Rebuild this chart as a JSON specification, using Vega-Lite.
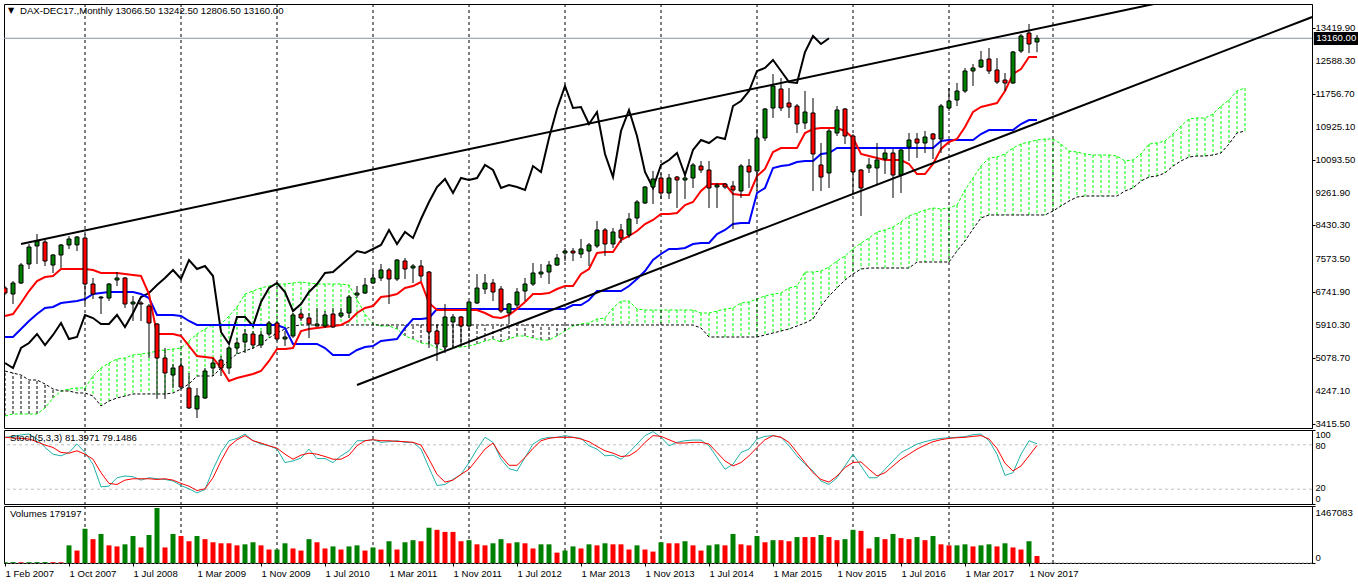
{
"$schema":"https://vega.github.io/schema/vega-lite/v6.json",
"background":"white",
"padding":{"left":2,"top":3,"right":0,"bottom":0},
"bounds":"flush",
"spacing":2,
"config":{"view":{"stroke":"black","strokeWidth":1},"scale":{"continuousPadding":0},
 "axis":{"labelFont":"Liberation Sans","labelFontSize":9.6,"labelColor":"black","domainColor":"black","tickColor":"black","tickSize":3,"labelPadding":2,"grid":false,"title":null,"labelOverlap":false}},
"datasets":{
"bars":[
{"i":0,"o":6851,"h":6901,"l":6674,"c":6724,"t":6144,"k":5613,"ch":4956,"v":20000,"vu":1,"sk":90.1,"sd":90.1},
{"i":1,"o":6699,"h":7028,"l":6447,"c":6977,"t":6194,"k":5613,"ch":4830,"v":22000,"vu":1,"sk":91.4,"sd":89.2},
{"i":2,"o":6977,"h":7483,"l":6952,"c":7432,"t":6472,"k":5816,"ch":5335,"v":18000,"vu":0,"sk":93.3,"sd":88.7},
{"i":3,"o":7457,"h":7963,"l":7331,"c":7887,"t":6775,"k":6018,"ch":5462,"v":20000,"vu":1,"sk":94.6,"sd":87.8},
{"i":4,"o":7913,"h":8215,"l":7457,"c":8039,"t":7028,"k":6194,"ch":5689,"v":22000,"vu":1,"sk":87.8,"sd":84.2},
{"i":5,"o":8013,"h":8114,"l":7407,"c":7533,"t":7129,"k":6346,"ch":5411,"v":24000,"vu":1,"sk":76.4,"sd":79.6},
{"i":6,"o":7432,"h":7710,"l":7230,"c":7685,"t":7154,"k":6371,"ch":5664,"v":20000,"vu":0,"sk":67.3,"sd":76.4},
{"i":7,"o":7685,"h":7963,"l":7356,"c":7938,"t":7331,"k":6472,"ch":5967,"v":18000,"vu":0,"sk":65.1,"sd":69.6},
{"i":8,"o":7938,"h":8165,"l":7837,"c":8089,"t":7331,"k":6497,"ch":5563,"v":453900,"vu":1,"sk":69.6,"sd":68.7},
{"i":9,"o":7940,"h":8165,"l":7786,"c":8140,"t":7331,"k":6523,"ch":5613,"v":320400,"vu":0,"sk":81,"sd":71.9},
{"i":10,"o":8114,"h":8215,"l":6447,"c":6952,"t":7331,"k":6573,"ch":6169,"v":881100,"vu":1,"sk":69.6,"sd":67.3},
{"i":11,"o":6952,"h":7104,"l":6573,"c":6699,"t":7306,"k":6699,"ch":6093,"v":614100,"vu":0,"sk":53.7,"sd":60.5},
{"i":12,"o":6598,"h":6649,"l":6194,"c":6623,"t":7230,"k":6724,"ch":5942,"v":747600,"vu":1,"sk":23.2,"sd":42.3},
{"i":13,"o":6598,"h":6977,"l":6523,"c":6952,"t":7230,"k":6750,"ch":5942,"v":453900,"vu":0,"sk":24.1,"sd":27.8},
{"i":14,"o":7053,"h":7255,"l":6901,"c":7104,"t":7230,"k":6750,"ch":6169,"v":427200,"vu":0,"sk":35.5,"sd":26.4},
{"i":15,"o":7104,"h":7129,"l":6346,"c":6447,"t":7205,"k":6750,"ch":5866,"v":480600,"vu":1,"sk":37.8,"sd":32.3},
{"i":16,"o":6447,"h":6649,"l":6018,"c":6497,"t":7180,"k":6750,"ch":6220,"v":694200,"vu":1,"sk":36.9,"sd":34.1},
{"i":17,"o":6472,"h":6523,"l":6018,"c":6447,"t":7154,"k":6699,"ch":6624,"v":400500,"vu":0,"sk":32.3,"sd":34.1},
{"i":18,"o":6396,"h":6447,"l":5083,"c":5967,"t":6699,"k":6598,"ch":6724,"v":720900,"vu":1,"sk":35.5,"sd":34.1},
{"i":19,"o":5942,"h":5967,"l":4047,"c":5083,"t":5689,"k":6169,"ch":6927,"v":1415100,"vu":1,"sk":34.1,"sd":33.2},
{"i":20,"o":5083,"h":5335,"l":4047,"c":4704,"t":5689,"k":6169,"ch":7104,"v":400500,"vu":0,"sk":33.2,"sd":34.1},
{"i":21,"o":4653,"h":4931,"l":4325,"c":4830,"t":5689,"k":6169,"ch":7306,"v":747600,"vu":1,"sk":31,"sd":32.3},
{"i":22,"o":4881,"h":5007,"l":4300,"c":4350,"t":5639,"k":6144,"ch":7079,"v":694200,"vu":0,"sk":25,"sd":27.8},
{"i":23,"o":4325,"h":4704,"l":3795,"c":3820,"t":5386,"k":6018,"ch":7559,"v":560700,"vu":0,"sk":20.5,"sd":24.1},
{"i":24,"o":3795,"h":4325,"l":3567,"c":4123,"t":5133,"k":5917,"ch":7331,"v":694200,"vu":1,"sk":15,"sd":18.2},
{"i":25,"o":4072,"h":4830,"l":4047,"c":4754,"t":5108,"k":5917,"ch":7407,"v":614100,"vu":0,"sk":19.6,"sd":20.5},
{"i":26,"o":4830,"h":5083,"l":4628,"c":4956,"t":5083,"k":5917,"ch":7154,"v":534000,"vu":0,"sk":46.9,"sd":35.5},
{"i":27,"o":5032,"h":5133,"l":4628,"c":4830,"t":4830,"k":5917,"ch":5740,"v":507300,"vu":0,"sk":69.6,"sd":58.2},
{"i":28,"o":4830,"h":5386,"l":4678,"c":5335,"t":4502,"k":5917,"ch":5437,"v":507300,"vu":0,"sk":85.5,"sd":77.8},
{"i":29,"o":5335,"h":5588,"l":5184,"c":5462,"t":4577,"k":5917,"ch":6119,"v":453900,"vu":0,"sk":88.7,"sd":86.9},
{"i":30,"o":5487,"h":5816,"l":5209,"c":5689,"t":4628,"k":5917,"ch":6119,"v":480600,"vu":1,"sk":94.6,"sd":92.4},
{"i":31,"o":5689,"h":5765,"l":5310,"c":5411,"t":4678,"k":5917,"ch":5891,"v":534000,"vu":1,"sk":85.5,"sd":85.5},
{"i":32,"o":5411,"h":5765,"l":5335,"c":5664,"t":4754,"k":5917,"ch":6497,"v":453900,"vu":0,"sk":81,"sd":82.4},
{"i":33,"o":5689,"h":6018,"l":5639,"c":5967,"t":5007,"k":5917,"ch":6851,"v":347100,"vu":0,"sk":78.7,"sd":78.7},
{"i":34,"o":5967,"h":6018,"l":5512,"c":5563,"t":5310,"k":5917,"ch":6977,"v":347100,"vu":1,"sk":74.2,"sd":75.5},
{"i":35,"o":5563,"h":5765,"l":5386,"c":5613,"t":5310,"k":5841,"ch":6750,"v":507300,"vu":1,"sk":56,"sd":67.3},
{"i":36,"o":5639,"h":6220,"l":5588,"c":6169,"t":5335,"k":5437,"ch":6270,"v":373800,"vu":0,"sk":58.2,"sd":60.5},
{"i":37,"o":6194,"h":6321,"l":6018,"c":6093,"t":5765,"k":5437,"ch":6447,"v":320400,"vu":0,"sk":62,"sd":66},
{"i":38,"o":6093,"h":6220,"l":5588,"c":5942,"t":5816,"k":5437,"ch":6750,"v":614100,"vu":1,"sk":74.2,"sd":68.7},
{"i":39,"o":5891,"h":6346,"l":5880,"c":5942,"t":5841,"k":5437,"ch":6952,"v":534000,"vu":0,"sk":61.4,"sd":67.3},
{"i":40,"o":5891,"h":6270,"l":5841,"c":6169,"t":5866,"k":5335,"ch":7230,"v":373800,"vu":0,"sk":61.4,"sd":64.2},
{"i":41,"o":6194,"h":6346,"l":5841,"c":5866,"t":5891,"k":5159,"ch":7255,"v":427200,"vu":1,"sk":56,"sd":60.5},
{"i":42,"o":6144,"h":6346,"l":6093,"c":6220,"t":5917,"k":5159,"ch":7432,"v":347100,"vu":0,"sk":65.1,"sd":60.5},
{"i":43,"o":6220,"h":6674,"l":6093,"c":6624,"t":6018,"k":5159,"ch":7609,"v":427200,"vu":1,"sk":71.9,"sd":66},
{"i":44,"o":6674,"h":6901,"l":6598,"c":6724,"t":6220,"k":5285,"ch":7786,"v":453900,"vu":1,"sk":85.5,"sd":78.7},
{"i":45,"o":6724,"h":7104,"l":6699,"c":6927,"t":6346,"k":5361,"ch":7736,"v":320400,"vu":0,"sk":85.5,"sd":85.5},
{"i":46,"o":6977,"h":7281,"l":6952,"c":7104,"t":6396,"k":5386,"ch":7837,"v":400500,"vu":1,"sk":86.9,"sd":86.9},
{"i":47,"o":7104,"h":7457,"l":7028,"c":7306,"t":6624,"k":5512,"ch":7938,"v":347100,"vu":0,"sk":83.3,"sd":85.5},
{"i":48,"o":7306,"h":7356,"l":6447,"c":7079,"t":6649,"k":5538,"ch":8317,"v":560700,"vu":1,"sk":84.2,"sd":85.5},
{"i":49,"o":7079,"h":7580,"l":7028,"c":7559,"t":6699,"k":5563,"ch":7963,"v":347100,"vu":0,"sk":85.5,"sd":84.6},
{"i":50,"o":7533,"h":7609,"l":7079,"c":7331,"t":6851,"k":5841,"ch":8266,"v":534000,"vu":1,"sk":83.3,"sd":84.2},
{"i":51,"o":7356,"h":7457,"l":6977,"c":7407,"t":6901,"k":6068,"ch":8114,"v":587400,"vu":1,"sk":83.3,"sd":83.3},
{"i":52,"o":7407,"h":7559,"l":7028,"c":7154,"t":7003,"k":6068,"ch":8594,"v":560700,"vu":0,"sk":74.2,"sd":79.6},
{"i":53,"o":7255,"h":7281,"l":5335,"c":5740,"t":6472,"k":6093,"ch":9024,"v":907800,"vu":1,"sk":49.2,"sd":60.5},
{"i":54,"o":5765,"h":5942,"l":5007,"c":5437,"t":6295,"k":6321,"ch":9403,"v":854400,"vu":0,"sk":25,"sd":40},
{"i":55,"o":5361,"h":6447,"l":5209,"c":6119,"t":6295,"k":6321,"ch":9605,"v":801000,"vu":0,"sk":26.4,"sd":29.6},
{"i":56,"o":5992,"h":6194,"l":5335,"c":6119,"t":6295,"k":6321,"ch":9251,"v":801000,"vu":0,"sk":33.2,"sd":32.3},
{"i":57,"o":6119,"h":6144,"l":5437,"c":5891,"t":6295,"k":6321,"ch":9630,"v":560700,"vu":0,"sk":40,"sd":40},
{"i":58,"o":5891,"h":6523,"l":5841,"c":6497,"t":6295,"k":6321,"ch":9580,"v":587400,"vu":1,"sk":56,"sd":46.9},
{"i":59,"o":6472,"h":7205,"l":6447,"c":6851,"t":6295,"k":6321,"ch":9630,"v":480600,"vu":0,"sk":74.2,"sd":60.5},
{"i":60,"o":6826,"h":7205,"l":6699,"c":6977,"t":6220,"k":6321,"ch":9959,"v":453900,"vu":0,"sk":90.1,"sd":74.2},
{"i":61,"o":6977,"h":7079,"l":6523,"c":6750,"t":6119,"k":6321,"ch":9832,"v":507300,"vu":1,"sk":83.3,"sd":82.4},
{"i":62,"o":6826,"h":6901,"l":6220,"c":6270,"t":6093,"k":6321,"ch":9378,"v":614100,"vu":1,"sk":60.5,"sd":65.1},
{"i":63,"o":6220,"h":6472,"l":5942,"c":6447,"t":6169,"k":6321,"ch":9453,"v":507300,"vu":0,"sk":47.8,"sd":52.3},
{"i":64,"o":6422,"h":6851,"l":6346,"c":6750,"t":6321,"k":6321,"ch":9403,"v":534000,"vu":1,"sk":44.6,"sd":52.3},
{"i":65,"o":6775,"h":7104,"l":6523,"c":6952,"t":6497,"k":6321,"ch":9327,"v":507300,"vu":0,"sk":62.8,"sd":62.8},
{"i":66,"o":6952,"h":7483,"l":6901,"c":7230,"t":6699,"k":6321,"ch":9933,"v":373800,"vu":0,"sk":81,"sd":75.1},
{"i":67,"o":7205,"h":7457,"l":7104,"c":7255,"t":6699,"k":6321,"ch":9782,"v":480600,"vu":1,"sk":87.8,"sd":85.5},
{"i":68,"o":7255,"h":7533,"l":6952,"c":7432,"t":6724,"k":6321,"ch":10641,"v":480600,"vu":1,"sk":90.1,"sd":88.7},
{"i":69,"o":7432,"h":7710,"l":7407,"c":7609,"t":6826,"k":6321,"ch":11374,"v":267000,"vu":0,"sk":90.1,"sd":90.1},
{"i":70,"o":7736,"h":7862,"l":7533,"c":7786,"t":6901,"k":6321,"ch":11954,"v":320400,"vu":1,"sk":92.4,"sd":90.1},
{"i":71,"o":7786,"h":7862,"l":7533,"c":7736,"t":6901,"k":6422,"ch":11399,"v":427200,"vu":1,"sk":90.1,"sd":90.1},
{"i":72,"o":7710,"h":8089,"l":7609,"c":7837,"t":7205,"k":6422,"ch":11424,"v":373800,"vu":0,"sk":88.7,"sd":87.8},
{"i":73,"o":7786,"h":7988,"l":7407,"c":7938,"t":7331,"k":6548,"ch":10995,"v":480600,"vu":1,"sk":78.7,"sd":84.2},
{"i":74,"o":7913,"h":8544,"l":7862,"c":8317,"t":7736,"k":6775,"ch":11298,"v":453900,"vu":0,"sk":74.2,"sd":77.8},
{"i":75,"o":8317,"h":8367,"l":7660,"c":7963,"t":7761,"k":6775,"ch":10237,"v":507300,"vu":1,"sk":65.1,"sd":71.9},
{"i":76,"o":7963,"h":8367,"l":7862,"c":8266,"t":7761,"k":6775,"ch":9655,"v":480600,"vu":0,"sk":66,"sd":68.7},
{"i":77,"o":8317,"h":8468,"l":7988,"c":8114,"t":8064,"k":6775,"ch":10818,"v":480600,"vu":0,"sk":60.5,"sd":64.2},
{"i":78,"o":8190,"h":8746,"l":8114,"c":8594,"t":8165,"k":6901,"ch":11348,"v":347100,"vu":0,"sk":69.6,"sd":65.1},
{"i":79,"o":8620,"h":9074,"l":8468,"c":9024,"t":8291,"k":7079,"ch":10691,"v":453900,"vu":1,"sk":81,"sd":71.9},
{"i":80,"o":8999,"h":9428,"l":8973,"c":9403,"t":8468,"k":7281,"ch":9782,"v":347100,"vu":0,"sk":92.4,"sd":83.3},
{"i":81,"o":9403,"h":9807,"l":8973,"c":9605,"t":8569,"k":7559,"ch":9378,"v":293700,"vu":0,"sk":97.8,"sd":92.4},
{"i":82,"o":9630,"h":9757,"l":9100,"c":9251,"t":8721,"k":7710,"ch":9959,"v":534000,"vu":1,"sk":90.1,"sd":91.4},
{"i":83,"o":9251,"h":9731,"l":9100,"c":9630,"t":8721,"k":7837,"ch":10085,"v":507300,"vu":0,"sk":78.7,"sd":86.9},
{"i":84,"o":9655,"h":9681,"l":8872,"c":9580,"t":8746,"k":7837,"ch":10262,"v":507300,"vu":0,"sk":83.3,"sd":82.4},
{"i":85,"o":9580,"h":9731,"l":9100,"c":9630,"t":8948,"k":7862,"ch":9706,"v":560700,"vu":1,"sk":85.5,"sd":82.4},
{"i":86,"o":9630,"h":10009,"l":9378,"c":9959,"t":9024,"k":7963,"ch":10338,"v":453900,"vu":0,"sk":86.4,"sd":83.3},
{"i":87,"o":9933,"h":10060,"l":9757,"c":9832,"t":9302,"k":7988,"ch":10590,"v":320400,"vu":0,"sk":86.4,"sd":83.3},
{"i":88,"o":9832,"h":10060,"l":8872,"c":9378,"t":9479,"k":7988,"ch":10514,"v":453900,"vu":1,"sk":78.7,"sd":81},
{"i":89,"o":9403,"h":9504,"l":8872,"c":9453,"t":9479,"k":8215,"ch":10666,"v":480600,"vu":1,"sk":62.8,"sd":69.6},
{"i":90,"o":9479,"h":9504,"l":9352,"c":9403,"t":9479,"k":8317,"ch":10615,"v":453900,"vu":0,"sk":46.9,"sd":58.2},
{"i":91,"o":9428,"h":9554,"l":8342,"c":9327,"t":9226,"k":8468,"ch":11449,"v":747600,"vu":1,"sk":53.7,"sd":51.4},
{"i":92,"o":9302,"h":9984,"l":9125,"c":9933,"t":9201,"k":8493,"ch":11576,"v":480600,"vu":0,"sk":69.6,"sd":56},
{"i":93,"o":9933,"h":10110,"l":9378,"c":9782,"t":9201,"k":8493,"ch":11828,"v":453900,"vu":0,"sk":74.2,"sd":65.1},
{"i":94,"o":9807,"h":10868,"l":9302,"c":10641,"t":9681,"k":9251,"ch":12334,"v":694200,"vu":1,"sk":87.8,"sd":76.4},
{"i":95,"o":10641,"h":11399,"l":10565,"c":11374,"t":9858,"k":9378,"ch":12409,"v":534000,"vu":0,"sk":91.4,"sd":86.9},
{"i":96,"o":11399,"h":12258,"l":11146,"c":11954,"t":10287,"k":9883,"ch":12611,"v":587400,"vu":1,"sk":92.4,"sd":92.4},
{"i":97,"o":11879,"h":12157,"l":11323,"c":11399,"t":10388,"k":9933,"ch":12334,"v":587400,"vu":0,"sk":90.1,"sd":90.1},
{"i":98,"o":11525,"h":11904,"l":11146,"c":11424,"t":10388,"k":9959,"ch":12056,"v":560700,"vu":0,"sk":78.7,"sd":83.3},
{"i":99,"o":11449,"h":11500,"l":10767,"c":10995,"t":10388,"k":10035,"ch":12030,"v":667500,"vu":1,"sk":65.1,"sd":69.6},
{"i":100,"o":11020,"h":11828,"l":10868,"c":11298,"t":10767,"k":10060,"ch":12814,"v":667500,"vu":0,"sk":53.7,"sd":56},
{"i":101,"o":11273,"h":11651,"l":9302,"c":10237,"t":10868,"k":10060,"ch":13218,"v":667500,"vu":0,"sk":44.6,"sd":42.3},
{"i":102,"o":9959,"h":10515,"l":9302,"c":9655,"t":10893,"k":10237,"ch":13016,"v":720900,"vu":1,"sk":31,"sd":33.2},
{"i":103,"o":9757,"h":10868,"l":9378,"c":10818,"t":10893,"k":10262,"ch":13160,"v":667500,"vu":0,"sk":26.4,"sd":29.6},
{"i":104,"o":10767,"h":11449,"l":10691,"c":11348,"t":10893,"k":10388,"v":587400,"vu":0,"sk":35.5,"sd":37.8},
{"i":105,"o":11374,"h":11399,"l":10489,"c":10691,"t":10818,"k":10388,"v":614100,"vu":1,"sk":51.4,"sd":49.2},
{"i":106,"o":10691,"h":10742,"l":9226,"c":9782,"t":10641,"k":10388,"v":854400,"vu":1,"sk":67.3,"sd":56},
{"i":107,"o":9832,"h":9858,"l":8670,"c":9378,"t":10237,"k":10388,"v":827700,"vu":0,"sk":51.4,"sd":56.9},
{"i":108,"o":9883,"h":10136,"l":9757,"c":9959,"t":10186,"k":10388,"v":373800,"vu":0,"sk":35.5,"sd":46.9},
{"i":109,"o":9883,"h":10515,"l":9479,"c":10085,"t":10136,"k":10388,"v":667500,"vu":1,"sk":35.5,"sd":37.8},
{"i":110,"o":10110,"h":10363,"l":9731,"c":10262,"t":10085,"k":10388,"v":614100,"vu":0,"sk":46.9,"sd":42.3},
{"i":111,"o":10262,"h":10363,"l":9125,"c":9706,"t":10085,"k":10388,"v":747600,"vu":1,"sk":58.2,"sd":51.4},
{"i":112,"o":9706,"h":10363,"l":9251,"c":10338,"t":10085,"k":10388,"v":640800,"vu":0,"sk":69.6,"sd":60.5},
{"i":113,"o":10413,"h":10767,"l":10060,"c":10590,"t":9984,"k":10388,"v":614100,"vu":0,"sk":75.1,"sd":67.3},
{"i":114,"o":10615,"h":10767,"l":10136,"c":10514,"t":9731,"k":10388,"v":667500,"vu":1,"sk":81,"sd":74.2},
{"i":115,"o":10514,"h":10818,"l":10262,"c":10666,"t":9731,"k":10388,"v":587400,"vu":0,"sk":84.2,"sd":79.6},
{"i":116,"o":10742,"h":10767,"l":10110,"c":10615,"t":9984,"k":10388,"v":694200,"vu":1,"sk":86.9,"sd":84.2},
{"i":117,"o":10615,"h":11500,"l":10262,"c":11449,"t":10363,"k":10565,"v":480600,"vu":0,"sk":88.7,"sd":86.9},
{"i":118,"o":11399,"h":11904,"l":11323,"c":11576,"t":10540,"k":10590,"v":453900,"vu":0,"sk":89.6,"sd":88.7},
{"i":119,"o":11601,"h":12030,"l":11449,"c":11828,"t":10615,"k":10590,"v":453900,"vu":1,"sk":90.1,"sd":89.6},
{"i":120,"o":11828,"h":12409,"l":11778,"c":12334,"t":10919,"k":10590,"v":480600,"vu":1,"sk":91,"sd":90.1},
{"i":121,"o":12334,"h":12510,"l":11954,"c":12409,"t":11298,"k":10590,"v":427200,"vu":0,"sk":93.7,"sd":91.4},
{"i":122,"o":12435,"h":12839,"l":12409,"c":12611,"t":11424,"k":10742,"v":453900,"vu":1,"sk":94.6,"sd":92.4},
{"i":123,"o":12636,"h":12915,"l":12258,"c":12334,"t":11475,"k":10843,"v":480600,"vu":1,"sk":85.5,"sd":87.8},
{"i":124,"o":12359,"h":12662,"l":12005,"c":12056,"t":11525,"k":10843,"v":427200,"vu":0,"sk":67.3,"sd":75.1},
{"i":125,"o":12106,"h":12283,"l":11828,"c":12030,"t":11828,"k":10843,"v":507300,"vu":1,"sk":38.7,"sd":55.1},
{"i":126,"o":12030,"h":12839,"l":12005,"c":12814,"t":12258,"k":10843,"v":400500,"vu":0,"sk":42.3,"sd":44.6},
{"i":127,"o":12839,"h":13268,"l":12788,"c":13218,"t":12384,"k":10995,"v":347100,"vu":0,"sk":67.3,"sd":51.4},
{"i":128,"o":13294,"h":13521,"l":12788,"c":13016,"t":12687,"k":11096,"v":560700,"vu":1,"sk":85.5,"sd":65.1},
{"i":129,"o":13066.5,"h":13242.5,"l":12806.5,"c":13160,"t":12687,"k":11096,"v":179197,"vu":0,"sk":81.3971,"sd":79.1486}
],
"cloud":[
{"i":0,"a":3617,"b":4754},{"i":1,"a":3668,"b":4704},{"i":2,"a":3668,"b":4653},{"i":3,"a":3668,"b":4527},{"i":4,"a":3668,"b":4527},
{"i":5,"a":3820,"b":4426},{"i":6,"a":4072,"b":4300},{"i":7,"a":4249,"b":4249},{"i":8,"a":4300,"b":4249},{"i":9,"a":4325,"b":4199},
{"i":10,"a":4325,"b":4199},{"i":11,"a":4628,"b":4123},{"i":12,"a":4830,"b":3870},{"i":13,"a":4956,"b":3996},{"i":14,"a":5057,"b":4072},
{"i":15,"a":5083,"b":4123},{"i":16,"a":5159,"b":4174},{"i":17,"a":5184,"b":4174},{"i":18,"a":5209,"b":4174},{"i":19,"a":5260,"b":4174},
{"i":20,"a":5285,"b":4174},{"i":21,"a":5310,"b":4199},{"i":22,"a":5335,"b":4300},{"i":23,"a":5512,"b":4426},{"i":24,"a":5689,"b":4628},
{"i":25,"a":5816,"b":4628},{"i":26,"a":5917,"b":4628},{"i":27,"a":5942,"b":4830},{"i":28,"a":6144,"b":5032},{"i":29,"a":6371,"b":5184},
{"i":30,"a":6699,"b":5260},{"i":31,"a":6775,"b":5335},{"i":32,"a":6851,"b":5437},{"i":33,"a":6901,"b":5588},{"i":34,"a":6952,"b":5715},
{"i":35,"a":6952,"b":5816},{"i":36,"a":6977,"b":5891},{"i":37,"a":7003,"b":5917},{"i":38,"a":6977,"b":5917},{"i":39,"a":6952,"b":5917},
{"i":40,"a":6952,"b":5917},{"i":41,"a":6952,"b":5917},{"i":42,"a":6952,"b":5917},{"i":43,"a":6927,"b":5917},{"i":44,"a":6560,"b":5917},
{"i":45,"a":6194,"b":5917},{"i":46,"a":5942,"b":5917},{"i":47,"a":5891,"b":5917},{"i":48,"a":5891,"b":5917},{"i":49,"a":5816,"b":5917},
{"i":50,"a":5639,"b":5917},{"i":51,"a":5563,"b":5917},{"i":52,"a":5462,"b":5917},{"i":53,"a":5437,"b":5917},{"i":54,"a":5335,"b":5917},
{"i":55,"a":5260,"b":5917},{"i":56,"a":5335,"b":5917},{"i":57,"a":5361,"b":5917},{"i":58,"a":5386,"b":5917},{"i":59,"a":5437,"b":5917},
{"i":60,"a":5512,"b":5917},{"i":61,"a":5563,"b":5917},{"i":62,"a":5487,"b":5917},{"i":63,"a":5563,"b":5917},{"i":64,"a":5639,"b":5917},
{"i":65,"a":5639,"b":5917},{"i":66,"a":5588,"b":5917},{"i":67,"a":5538,"b":5917},{"i":68,"a":5538,"b":5917},{"i":69,"a":5639,"b":5917},
{"i":70,"a":5765,"b":5917},{"i":71,"a":5891,"b":5917},{"i":72,"a":5942,"b":5917},{"i":73,"a":5967,"b":5917},{"i":74,"a":6068,"b":5917},
{"i":75,"a":6093,"b":5917},{"i":76,"a":6346,"b":5917},{"i":77,"a":6523,"b":5917},{"i":78,"a":6523,"b":5917},{"i":79,"a":6321,"b":5917},
{"i":80,"a":6295,"b":5917},{"i":81,"a":6295,"b":5917},{"i":82,"a":6295,"b":5917},{"i":83,"a":6295,"b":5917},{"i":84,"a":6295,"b":5917},
{"i":85,"a":6295,"b":5917},{"i":86,"a":6295,"b":5917},{"i":87,"a":6220,"b":5841},{"i":88,"a":6220,"b":5613},{"i":89,"a":6270,"b":5613},
{"i":90,"a":6321,"b":5613},{"i":91,"a":6346,"b":5613},{"i":92,"a":6472,"b":5613},{"i":93,"a":6497,"b":5613},{"i":94,"a":6573,"b":5613},
{"i":95,"a":6649,"b":5664},{"i":96,"a":6699,"b":5715},{"i":97,"a":6724,"b":5765},{"i":98,"a":6851,"b":5816},{"i":99,"a":6901,"b":5891},
{"i":100,"a":7255,"b":5967},{"i":101,"a":7255,"b":6068},{"i":102,"a":7281,"b":6396},{"i":103,"a":7382,"b":6649},{"i":104,"a":7533,"b":6851},
{"i":105,"a":7660,"b":7053},{"i":106,"a":7837,"b":7205},{"i":107,"a":7988,"b":7331},{"i":108,"a":8114,"b":7356},{"i":109,"a":8266,"b":7356},
{"i":110,"a":8317,"b":7356},{"i":111,"a":8392,"b":7356},{"i":112,"a":8519,"b":7356},{"i":113,"a":8670,"b":7356},{"i":114,"a":8746,"b":7508},
{"i":115,"a":8822,"b":7508},{"i":116,"a":8872,"b":7508},{"i":117,"a":8847,"b":7508},{"i":118,"a":8872,"b":7508},{"i":119,"a":8948,"b":7786},
{"i":120,"a":9327,"b":8039},{"i":121,"a":9630,"b":8342},{"i":122,"a":9933,"b":8620},{"i":123,"a":10136,"b":8696},{"i":124,"a":10161,"b":8696},
{"i":125,"a":10237,"b":8696},{"i":126,"a":10388,"b":8696},{"i":127,"a":10489,"b":8696},{"i":128,"a":10540,"b":8696},{"i":129,"a":10590,"b":8696},
{"i":130,"a":10615,"b":8696},{"i":131,"a":10615,"b":8797},{"i":132,"a":10489,"b":8923},{"i":133,"a":10312,"b":9049},{"i":134,"a":10287,"b":9150},
{"i":135,"a":10237,"b":9175},{"i":136,"a":10211,"b":9175},{"i":137,"a":10211,"b":9175},{"i":138,"a":10211,"b":9175},{"i":139,"a":10186,"b":9175},
{"i":140,"a":10060,"b":9302},{"i":141,"a":10085,"b":9378},{"i":142,"a":10237,"b":9554},{"i":143,"a":10489,"b":9655},{"i":144,"a":10515,"b":9681},
{"i":145,"a":10565,"b":9757},{"i":146,"a":10742,"b":9933},{"i":147,"a":10944,"b":10060},{"i":148,"a":11121,"b":10161},{"i":149,"a":11146,"b":10186},
{"i":150,"a":11146,"b":10186},{"i":151,"a":11247,"b":10211},{"i":152,"a":11449,"b":10262},{"i":153,"a":11601,"b":10489},{"i":154,"a":11828,"b":10767},
{"i":155,"a":11904,"b":10818}
],
"years":[{"i":10},{"i":22},{"i":34},{"i":46},{"i":58},{"i":70},{"i":82},{"i":94},{"i":106},{"i":118},{"i":131}],
"trend":[{"n":"a","i":2,"p":7963},{"n":"a","i":143.6,"p":14026},{"n":"b","i":44,"p":4401},{"n":"b","i":163.4,"p":13698}],
"plabels":[{"p":13419.9,"s":"13419.90"},{"p":12588.3,"s":"12588.30"},{"p":11756.7,"s":"11756.70"},{"p":10925.1,"s":"10925.10"},{"p":10093.5,"s":"10093.50"},{"p":9261.9,"s":"9261.90"},{"p":8430.3,"s":"8430.30"},{"p":7573.5,"s":"7573.50"},{"p":6741.9,"s":"6741.90"},{"p":5910.3,"s":"5910.30"},{"p":5078.7,"s":"5078.70"},{"p":4247.1,"s":"4247.10"},{"p":3415.5,"s":"3415.50"}]
},
"vconcat":[
{
"width":1308,"height":424,
"layer":[
{"data":{"name":"cloud"},"mark":{"type":"rule","strokeDash":[3,2],"strokeWidth":1},
 "encoding":{"x":{"field":"i","type":"quantitative","scale":{"domain":[-0.125,163.375],"nice":false,"zero":false,"padding":0},"axis":null},
 "y":{"field":"a","type":"quantitative","scale":{"domain":[3314.3,14026.2],"nice":false,"zero":false},
   "axis":{"orient":"right","values":[3415.5,4247.1,5078.7,5910.3,6741.9,7573.5,8430.3,9261.9,10093.5,10925.1,11756.7,12588.3,13419.9],"labels":false}},
 "y2":{"field":"b"},
 "color":{"condition":{"test":"datum.a >= datum.b","value":"#00ff00"},"value":"#000000"}}},
{"data":{"name":"cloud"},"mark":{"type":"line","stroke":"#00ff00","strokeWidth":1,"strokeDash":[3,2]},
 "encoding":{"x":{"field":"i","type":"quantitative","scale":{"domain":[-0.125,163.375],"nice":false,"zero":false,"padding":0}},
 "y":{"field":"a","type":"quantitative","scale":{"domain":[3314.3,14026.2],"nice":false,"zero":false}}}},
{"data":{"name":"cloud"},"mark":{"type":"line","stroke":"#000000","strokeWidth":1,"strokeDash":[3,2]},
 "encoding":{"x":{"field":"i","type":"quantitative","scale":{"domain":[-0.125,163.375],"nice":false,"zero":false,"padding":0}},
 "y":{"field":"b","type":"quantitative","scale":{"domain":[3314.3,14026.2],"nice":false,"zero":false}}}},
{"data":{"name":"years"},"mark":{"type":"rule","stroke":"#000000","strokeWidth":1,"strokeDash":[3,3]},
 "encoding":{"x":{"field":"i","type":"quantitative","scale":{"domain":[-0.125,163.375],"nice":false,"zero":false,"padding":0}}}},
{"data":{"values":[{"p":13160}]},"mark":{"type":"rule","stroke":"#8896a4","strokeWidth":1},
 "encoding":{"y":{"field":"p","type":"quantitative","scale":{"domain":[3314.3,14026.2],"nice":false,"zero":false}}}},
{"data":{"name":"bars"},"transform":[{"filter":"isValid(datum.ch)"}],"mark":{"type":"line","stroke":"#000000","strokeWidth":2,"clip":true},
 "encoding":{"x":{"field":"i","type":"quantitative","scale":{"domain":[-0.125,163.375],"nice":false,"zero":false,"padding":0}},
 "y":{"field":"ch","type":"quantitative","scale":{"domain":[3314.3,14026.2],"nice":false,"zero":false}}}},
{"data":{"name":"bars"},"mark":{"type":"line","stroke":"#0000ff","strokeWidth":2,"clip":true},
 "encoding":{"x":{"field":"i","type":"quantitative","scale":{"domain":[-0.125,163.375],"nice":false,"zero":false,"padding":0}},
 "y":{"field":"k","type":"quantitative","scale":{"domain":[3314.3,14026.2],"nice":false,"zero":false}}}},
{"data":{"name":"bars"},"mark":{"type":"line","stroke":"#ff0000","strokeWidth":2,"clip":true},
 "encoding":{"x":{"field":"i","type":"quantitative","scale":{"domain":[-0.125,163.375],"nice":false,"zero":false,"padding":0}},
 "y":{"field":"t","type":"quantitative","scale":{"domain":[3314.3,14026.2],"nice":false,"zero":false}}}},
{"data":{"name":"bars"},"mark":{"type":"rule","stroke":"#000000","strokeWidth":1,"clip":true},
 "encoding":{"x":{"field":"i","type":"quantitative","scale":{"domain":[-0.125,163.375],"nice":false,"zero":false,"padding":0}},
 "y":{"field":"l","type":"quantitative","scale":{"domain":[3314.3,14026.2],"nice":false,"zero":false}},"y2":{"field":"h"}}},
{"data":{"name":"bars"},"mark":{"type":"bar","size":4,"stroke":"#000000","strokeWidth":1,"clip":true},
 "encoding":{"x":{"field":"i","type":"quantitative","scale":{"domain":[-0.125,163.375],"nice":false,"zero":false,"padding":0}},
 "y":{"field":"o","type":"quantitative","scale":{"domain":[3314.3,14026.2],"nice":false,"zero":false}},"y2":{"field":"c"},
 "fill":{"condition":{"test":"datum.c >= datum.o","value":"#008000"},"value":"#ff0000"}}},
{"data":{"name":"trend"},"mark":{"type":"line","stroke":"#000000","strokeWidth":2,"clip":true},
 "encoding":{"x":{"field":"i","type":"quantitative","scale":{"domain":[-0.125,163.375],"nice":false,"zero":false,"padding":0}},
 "y":{"field":"p","type":"quantitative","scale":{"domain":[3314.3,14026.2],"nice":false,"zero":false}},"detail":{"field":"n"}}},
{"data":{"values":[{"s":"▼"}]},"mark":{"type":"text","font":"DejaVu Sans","fontSize":8,"align":"center","baseline":"middle","color":"#000000"},
 "encoding":{"x":{"datum":0.75,"type":"quantitative","scale":{"domain":[-0.125,163.375],"nice":false,"zero":false,"padding":0}},
 "y":{"datum":13849,"type":"quantitative","scale":{"domain":[3314.3,14026.2],"nice":false,"zero":false}},"text":{"field":"s"}}},
{"data":{"values":[{"s":"DAX-DEC17.,Monthly  13066.50 13242.50 12806.50 13160.00"}]},"mark":{"type":"text","font":"Liberation Sans","fontSize":9.6,"align":"left","baseline":"middle","color":"#000000"},
 "encoding":{"x":{"datum":1.875,"type":"quantitative","scale":{"domain":[-0.125,163.375],"nice":false,"zero":false,"padding":0}},
 "y":{"datum":13849,"type":"quantitative","scale":{"domain":[3314.3,14026.2],"nice":false,"zero":false}},"text":{"field":"s"}}},
{"data":{"name":"plabels"},"mark":{"type":"text","font":"Liberation Sans","fontSize":9.6,"align":"left","baseline":"middle","color":"#000000"},
 "encoding":{"x":{"datum":163.8,"type":"quantitative","scale":{"domain":[-0.125,163.375],"nice":false,"zero":false,"padding":0}},
 "y":{"field":"p","type":"quantitative","scale":{"domain":[3314.3,14026.2],"nice":false,"zero":false}},"text":{"field":"s"}}},
{"data":{"values":[{"s":"13160.00"}]},"mark":{"type":"rect","fill":"#000000"},
 "encoding":{"x":{"datum":163.6,"type":"quantitative","scale":{"domain":[-0.125,163.375],"nice":false,"zero":false,"padding":0}},"x2":{"datum":169.3},
 "y":{"datum":13319,"type":"quantitative","scale":{"domain":[3314.3,14026.2],"nice":false,"zero":false}},"y2":{"datum":12990}}},
{"data":{"values":[{"s":"13160.00"}]},"mark":{"type":"text","font":"Liberation Sans","fontSize":9.6,"align":"left","baseline":"middle","color":"#ffffff"},
 "encoding":{"x":{"datum":163.9,"type":"quantitative","scale":{"domain":[-0.125,163.375],"nice":false,"zero":false,"padding":0}},
 "y":{"datum":13160,"type":"quantitative","scale":{"domain":[3314.3,14026.2],"nice":false,"zero":false}},"text":{"field":"s"}}}
]
},
{
"width":1308,"height":74,
"layer":[
{"data":{"name":"years"},"mark":{"type":"rule","stroke":"#000000","strokeWidth":1,"strokeDash":[3,3]},
 "encoding":{"x":{"field":"i","type":"quantitative","scale":{"domain":[-0.125,163.375],"nice":false,"zero":false,"padding":0},"axis":null}}},
{"data":{"values":[{"y":20},{"y":80}]},"mark":{"type":"rule","stroke":"#c0c0c0","strokeWidth":1,"strokeDash":[3,3]},
 "encoding":{"y":{"field":"y","type":"quantitative","scale":{"domain":[0,100],"nice":false,"zero":false},
  "axis":{"orient":"right","values":[0,20,80,100],"labels":false}}}},
{"data":{"name":"bars"},"mark":{"type":"line","stroke":"#20b2aa","strokeWidth":1,"clip":true},
 "encoding":{"x":{"field":"i","type":"quantitative","scale":{"domain":[-0.125,163.375],"nice":false,"zero":false,"padding":0}},
 "y":{"field":"sk","type":"quantitative","scale":{"domain":[0,100],"nice":false,"zero":false}}}},
{"data":{"name":"bars"},"mark":{"type":"line","stroke":"#ff0000","strokeWidth":1,"clip":true},
 "encoding":{"x":{"field":"i","type":"quantitative","scale":{"domain":[-0.125,163.375],"nice":false,"zero":false,"padding":0}},
 "y":{"field":"sd","type":"quantitative","scale":{"domain":[0,100],"nice":false,"zero":false}}}},
{"data":{"values":[{"y":93.5,"s":"100"},{"y":78.5,"s":"80"},{"y":22,"s":"20"},{"y":6.5,"s":"0"}]},"mark":{"type":"text","font":"Liberation Sans","fontSize":9.2,"align":"left","baseline":"middle","color":"#000000"},
 "encoding":{"x":{"datum":163.8,"type":"quantitative","scale":{"domain":[-0.125,163.375],"nice":false,"zero":false,"padding":0}},
 "y":{"field":"y","type":"quantitative","scale":{"domain":[0,100],"nice":false,"zero":false}},"text":{"field":"s"}}},
{"data":{"values":[{"s":"Stoch(5,3,3) 81.3971 79.1486"}]},"mark":{"type":"text","font":"Liberation Sans","fontSize":9.6,"align":"left","baseline":"middle","color":"#000000"},
 "encoding":{"x":{"datum":0.625,"type":"quantitative","scale":{"domain":[-0.125,163.375],"nice":false,"zero":false,"padding":0}},
 "y":{"datum":89,"type":"quantitative","scale":{"domain":[0,100],"nice":false,"zero":false}},"text":{"field":"s"}}}
]
},
{
"width":1308,"height":57,
"layer":[
{"data":{"name":"years"},"mark":{"type":"rule","stroke":"#000000","strokeWidth":1,"strokeDash":[3,3]},
 "encoding":{"x":{"field":"i","type":"quantitative","scale":{"domain":[-0.125,163.375],"nice":false,"zero":false,"padding":0},
  "axis":{"values":[0,8,16,24,32,40,48,56,64,72,80,88,96,104,112,120,128],"labelAlign":"left","labelFlush":false,"labelOverlap":false,"labelPadding":2,
   "labelExpr":"['1 Feb 2007','1 Oct 2007','1 Jul 2008','1 Mar 2009','1 Nov 2009','1 Jul 2010','1 Mar 2011','1 Nov 2011','1 Jul 2012','1 Mar 2013','1 Nov 2013','1 Jul 2014','1 Mar 2015','1 Nov 2015','1 Jul 2016','1 Mar 2017','1 Nov 2017'][round(datum.value/8)]"}}}},
{"data":{"values":[{"v":0}]},"mark":{"type":"rule","stroke":"#a0a0a0","strokeWidth":1,"strokeDash":[2,2]},
 "encoding":{"y":{"field":"v","type":"quantitative","scale":{"domain":[0,1467083],"nice":false,"zero":true}}}},
{"data":{"name":"bars"},"mark":{"type":"bar","size":5,"clip":true},
 "encoding":{"x":{"field":"i","type":"quantitative","scale":{"domain":[-0.125,163.375],"nice":false,"zero":false,"padding":0}},
 "y":{"field":"v","type":"quantitative","scale":{"domain":[0,1467083],"nice":false,"zero":true},
  "axis":{"orient":"right","values":[0,1467083],"labels":false}},
 "fill":{"condition":{"test":"datum.vu == 1","value":"#008000"},"value":"#ff0000"}}},
{"data":{"values":[{"v":1286900,"s":"1467083"},{"v":128700,"s":"0"}]},"mark":{"type":"text","font":"Liberation Sans","fontSize":9.6,"align":"left","baseline":"middle","color":"#000000"},
 "encoding":{"x":{"datum":163.8,"type":"quantitative","scale":{"domain":[-0.125,163.375],"nice":false,"zero":false,"padding":0}},
 "y":{"field":"v","type":"quantitative","scale":{"domain":[0,1467083],"nice":false,"zero":true}},"text":{"field":"s"}}},
{"data":{"values":[{"s":"Volumes 179197"}]},"mark":{"type":"text","font":"Liberation Sans","fontSize":9.6,"align":"left","baseline":"middle","color":"#000000"},
 "encoding":{"x":{"datum":0.625,"type":"quantitative","scale":{"domain":[-0.125,163.375],"nice":false,"zero":false,"padding":0}},
 "y":{"datum":1261200,"type":"quantitative","scale":{"domain":[0,1467083],"nice":false,"zero":true}},"text":{"field":"s"}}}
]
}
]
}
